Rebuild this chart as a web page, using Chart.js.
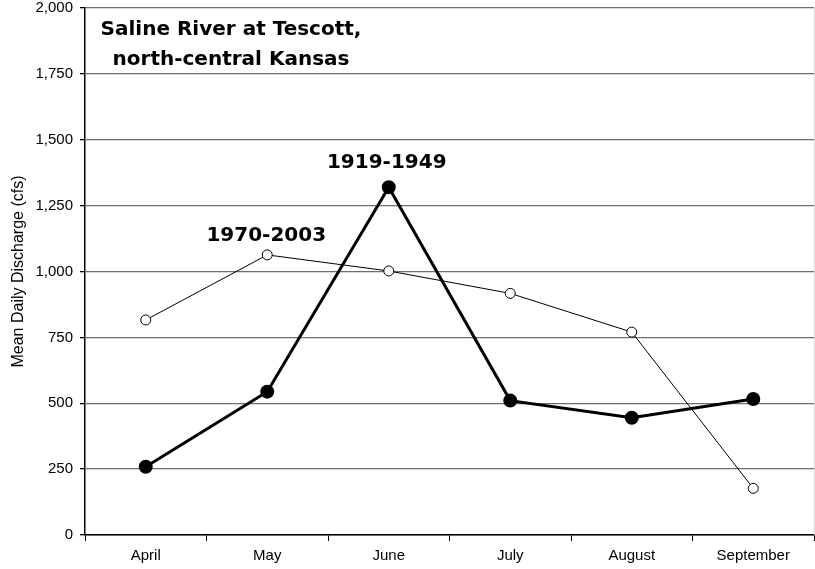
<!DOCTYPE html>
<html lang="en">
<head>
<meta charset="UTF-8">
<script src="https://cdn.jsdelivr.net/npm/chart.js"></script>
<style>
html, body { margin: 0; padding: 0; background: #fff; }
#wrap { width: 815px; height: 569px; }
</style>
</head>
<body>
<div id="wrap"><canvas id="chart" width="815" height="569"></canvas></div>
<script>
// data
const months = ["April", "May", "June", "July", "August", "September"];
const early = [259, 544, 1320, 510, 445, 516];     // 1919-1949
const recent = [816, 1063, 1002, 917, 770, 177];   // 1970-2003
const yTicks = [0, 250, 500, 750, 1000, 1250, 1500, 1750, 2000];
const titleLines = ["Saline River at Tescott,", "north-central Kansas"];

const boldFont = "bold 20px 'DejaVu Sans'";

// labels and title drawn on top of the plot
const notes = {
    id: "notes",
    afterDatasetsDraw(chart) {
        const ctx = chart.ctx;
        const x = chart.scales.x, y = chart.scales.y;
        ctx.save();
        ctx.fillStyle = "#000";
        ctx.font = boldFont;
        ctx.textAlign = "center";
        ctx.textBaseline = "alphabetic";
        ctx.fillText("1919-1949", x.getPixelForValue(2) - 2, y.getPixelForValue(early[2]) - 19);
        ctx.fillText("1970-2003", x.getPixelForValue(1) - 1, y.getPixelForValue(recent[1]) - 14);
        const a = chart.chartArea;
        ctx.fillText(titleLines[0], a.left + 146, a.top + 27);
        ctx.fillText(titleLines[1], a.left + 146, a.top + 57);
        // faint right border
        ctx.strokeStyle = "#d8d8d8";
        ctx.lineWidth = 1;
        ctx.beginPath();
        ctx.moveTo(a.right + 0.5, a.top);
        ctx.lineTo(a.right + 0.5, a.bottom);
        ctx.stroke();
        ctx.restore();
    }
};

new Chart(document.getElementById("chart"), {
    type: "line",
    data: {
        labels: months,
        datasets: [{
            label: "1970-2003",
            data: recent,
            borderColor: "#000",
            borderWidth: 1,
            pointRadius: 5,
            pointBackgroundColor: "#fff",
            pointBorderColor: "#000",
            pointBorderWidth: 1,
            tension: 0
        }, {
            label: "1919-1949",
            data: early,
            borderColor: "#000",
            borderWidth: 3,
            pointRadius: 5.5,
            pointBackgroundColor: "#000",
            pointBorderColor: "#000",
            tension: 0
        }]
    },
    options: {
        responsive: false,
        animation: false,
        layout: { autoPadding: false, padding: { top: 8, right: 1, left: 0, bottom: 0 } },
        plugins: { legend: { display: false }, tooltip: { enabled: false } },
        scales: {
            x: {
                offset: true,
                grid: {
                    offset: true,
                    drawOnChartArea: false,
                    drawTicks: true,
                    tickLength: 6,
                    color: "#000"
                },
                border: { color: "#000", width: 1.5 },
                ticks: {
                    color: "#000",
                    padding: 6,
                    maxRotation: 0,
                    font: { family: "'Liberation Sans', Arial", size: 15 }
                },
                afterFit(s) { s.height = 34; s.paddingLeft = 0; s.paddingRight = 0; }
            },
            y: {
                min: 0,
                max: 2000,
                afterBuildTicks(s) { s.ticks = yTicks.map(v => ({ value: v })); },
                grid: {
                    color: "#6e6e6e",
                    lineWidth: 1.3,
                    tickLength: 5,
                    tickColor: "#000"
                },
                border: { color: "#000", width: 1.5 },
                ticks: {
                    color: "#000",
                    padding: 7,
                    font: { family: "'Liberation Sans', Arial", size: 15 },
                    callback: v => v.toLocaleString("en-US")
                },
                title: {
                    display: true,
                    text: "Mean Daily Discharge (cfs)",
                    color: "#000",
                    padding: { top: 9, bottom: 0 },
                    font: { family: "'Liberation Sans', Arial", size: 16 }
                },
                afterFit(s) { s.width = 85; s.paddingTop = 0; s.paddingBottom = 0; }
            }
        }
    },
    plugins: [notes]
});
</script>
</body>
</html>
